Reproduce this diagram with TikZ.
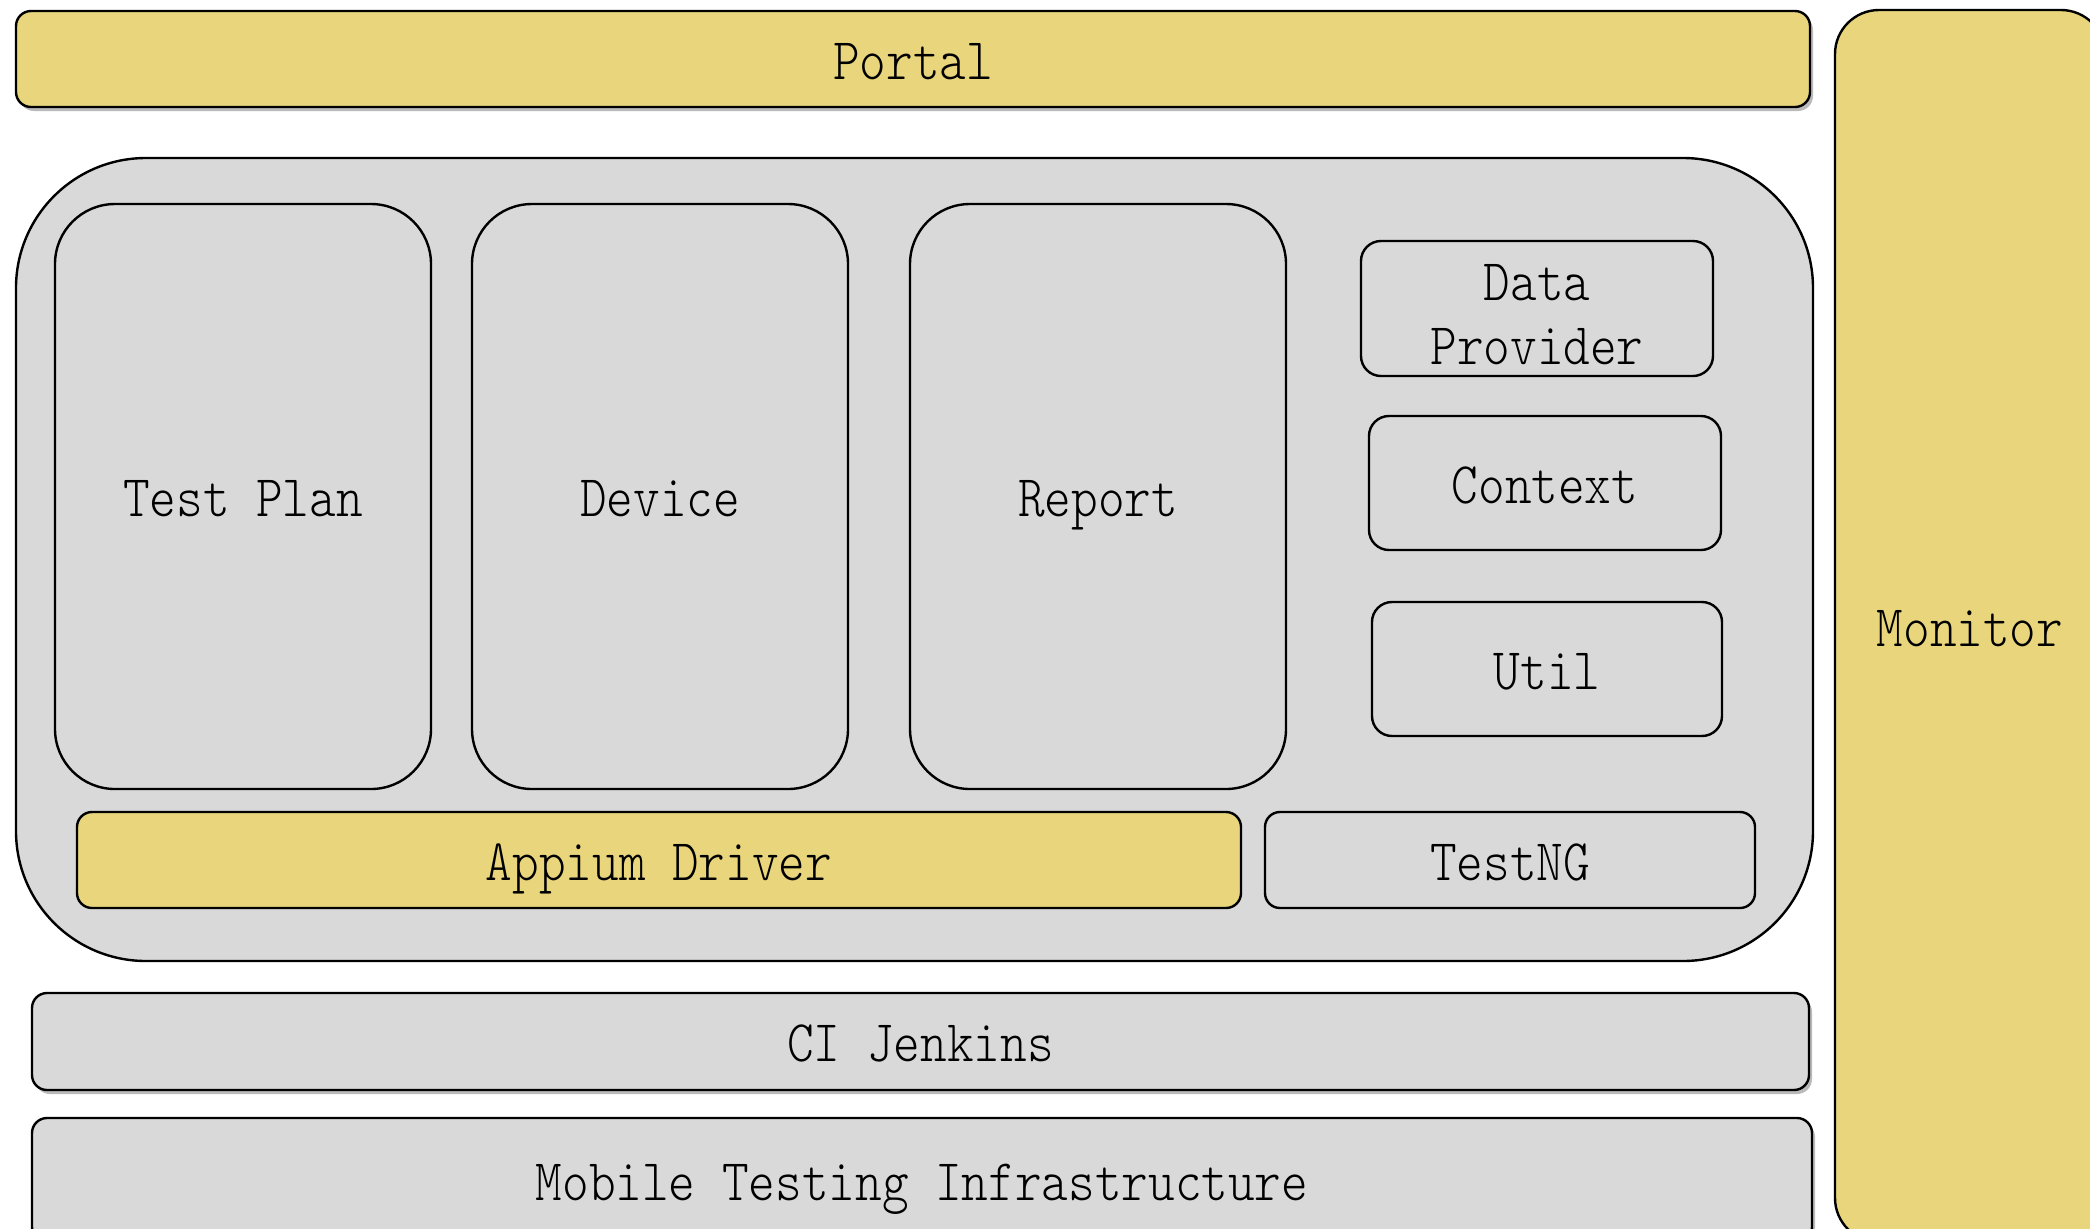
\documentclass[tikz,border=0pt]{standalone}
\usepackage{fontspec}
\usetikzlibrary{shadows}
\definecolor{ylw}{RGB}{233,214,124}
\definecolor{gry}{RGB}{217,217,217}
\newfontfamily\diagfnt[FakeStretch=0.86]{lmmonolt10-regular.otf}
\newcommand\diagfont{\diagfnt\fontsize{29.5}{32}\selectfont}
\tikzset{
  box/.style={draw=black, line width=1.2pt, inner sep=0pt, outer sep=0pt, align=center, font=\diagfont},
  lbl/.style={text height=20pt, text depth=0pt},
  ybox/.style={box, lbl, fill=ylw},
  gbox/.style={box, lbl, fill=gry},
  shd/.style={drop shadow={shadow xshift=1.5pt, shadow yshift=-2pt, fill=black!60, opacity=0.45}},
}
\begin{document}
\begin{tikzpicture}[x=0.5pt,y=-0.5pt]
\clip (0,0) rectangle (2090,1228);
\fill[white] (0,0) rectangle (2090,1228);
\node[ybox, shd, rounded corners=7.5pt, minimum width=897pt, minimum height=48pt] (portal) at (913,59) {Portal};
\node[ybox, rounded corners=22pt, minimum width=135pt, minimum height=616pt] (monitor) at (1970,626) {Monitor};
\node[gbox, rounded corners=65pt, minimum width=898.5pt, minimum height=401.5pt] (core) at (914.5,559.5) {};
\node[gbox, rounded corners=30pt, minimum width=188pt, minimum height=292.5pt] (plan) at (243,496.5) {Test Plan};
\node[gbox, rounded corners=30pt, minimum width=188pt, minimum height=292.5pt] (device) at (660,496.5) {Device};
\node[gbox, rounded corners=30pt, minimum width=188pt, minimum height=292.5pt] (report) at (1098,496.5) {Report};
\node[box, fill=gry, rounded corners=10pt, minimum width=176pt, minimum height=67.5pt] (data) at (1537,308.5) {\raisebox{-12pt}[0pt][0pt]{\begin{tabular}{@{}c@{}}Data\\Provider\end{tabular}}};
\node[gbox, rounded corners=10pt, minimum width=176pt, minimum height=67pt] (context) at (1545,483) {Context};
\node[gbox, rounded corners=10pt, minimum width=175pt, minimum height=67pt] (util) at (1547,669) {Util};
\node[ybox, rounded corners=7.5pt, minimum width=582pt, minimum height=48pt] (appium) at (659,860) {Appium Driver};
\node[gbox, rounded corners=7.5pt, minimum width=245pt, minimum height=48pt] (testng) at (1510,860) {TestNG};
\node[gbox, shd, rounded corners=7.5pt, minimum width=888.5pt, minimum height=48.5pt] (ci) at (920.5,1041.5) {CI Jenkins};
\node[gbox, shd, rounded corners=7.5pt, minimum width=890pt, minimum height=62pt] (mobile) at (922,1180) {Mobile Testing Infrastructure};
\end{tikzpicture}
\end{document}
